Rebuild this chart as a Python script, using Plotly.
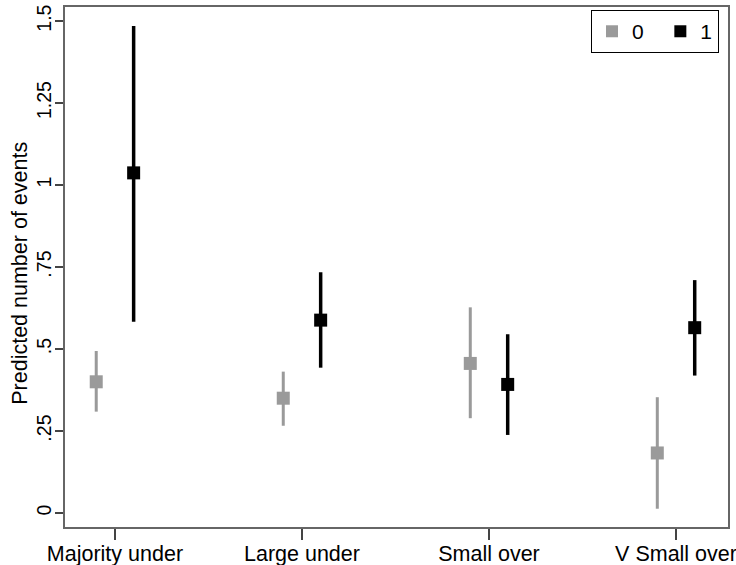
import plotly.graph_objects as go

categories = ["Majority under", "Large under", "Small over", "V Small over"]
series_names = ["0", "1"]
est_0 = [0.40, 0.35, 0.456, 0.183]
lo_0 = [0.309, 0.266, 0.289, 0.013]
hi_0 = [0.494, 0.431, 0.627, 0.353]
est_1 = [1.037, 0.588, 0.392, 0.565]
lo_1 = [0.583, 0.443, 0.238, 0.419]
hi_1 = [1.485, 0.734, 0.545, 0.71]
y_tickvals = [0, 0.25, 0.5, 0.75, 1, 1.25, 1.5]
y_ticktext = ["0", ".25", ".5", ".75", "1", "1.25", "1.5"]

colors = ["#9a9a9a", "#000000"]
thick = [3, 3.5]
offsets = [-0.1, 0.1]
legend_pad = ["\u00a0\u00a0", ""]
base = list(range(1, len(categories) + 1))

fig = go.Figure()
for name, est, lo, hi, col, off, th, pad in zip(series_names, [est_0, est_1], [lo_0, lo_1],
                                                [hi_0, hi_1], colors, offsets, thick, legend_pad):
    fig.add_trace(go.Scatter(
        x=[b + off for b in base], y=est, mode="markers", name=name + pad,
        marker=dict(symbol="square", size=13, color=col),
        error_y=dict(type="data", symmetric=False,
                     array=[h - e for h, e in zip(hi, est)],
                     arrayminus=[e - l for e, l in zip(est, lo)],
                     color=col, thickness=th, width=0),
    ))

fig.update_layout(
    width=736, height=565,
    margin=dict(l=65, r=8, t=7, b=38),
    paper_bgcolor="white", plot_bgcolor="white",
    font=dict(family="Liberation Sans, Arial, sans-serif", size=20, color="black"),
    showlegend=True,
    legend=dict(orientation="h", x=0.9864, xanchor="right", y=0.994, yanchor="top",
                bordercolor="black", borderwidth=1, font=dict(size=21),
                itemsizing="constant", bgcolor="white"),
    xaxis=dict(range=[0.733, 4.278], tickvals=base, ticktext=categories,
               showgrid=False, zeroline=False, ticks="outside", ticklen=11,
               tickcolor="#444", tickwidth=1.5, showline=True, linecolor="#666",
               linewidth=1.5, mirror=True, tickfont=dict(size=21.5), automargin=False,
               ticklabelstandoff=-5, ticklabeloverflow="allow"),
    yaxis=dict(range=[-0.0427, 1.5427], tickvals=y_tickvals, ticktext=y_ticktext,
               tickangle=-90, showgrid=False, zeroline=False, ticks="outside",
               ticklen=8, tickcolor="#444", tickwidth=1.5, showline=True,
               linecolor="#666", linewidth=1.5, mirror=True, tickfont=dict(size=19.5),
               automargin=False, ticklabelstandoff=-4, ticklabeloverflow="allow"),
    annotations=[dict(text="Predicted number of events", xref="paper", yref="paper",
                      x=-0.069, y=0.4875, textangle=-90, showarrow=False,
                      font=dict(size=21.5), xanchor="center", yanchor="middle")],
)

fig.write_html("out.html", config={"displayModeBar": False},
               post_script="document.body.style.margin='0';")
